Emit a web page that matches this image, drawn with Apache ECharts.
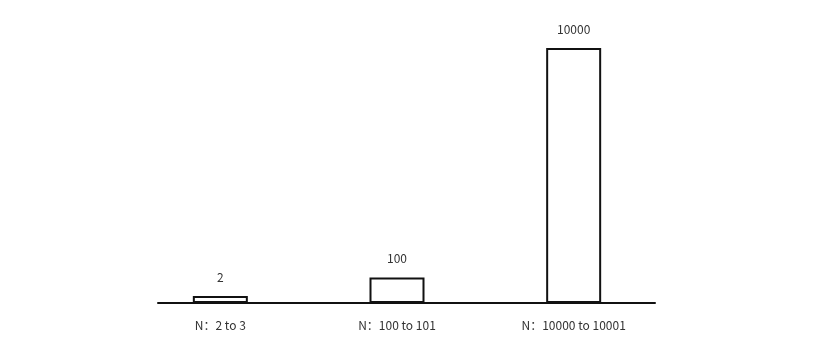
<!DOCTYPE html>
<html>
<head>
<meta charset="utf-8">
<script src="https://cdn.jsdelivr.net/npm/echarts@6/dist/echarts.min.js"></script>
<style>
  html, body { margin: 0; padding: 0; background: #fff; }
  #chart { width: 814px; height: 355px; }
</style>
</head>
<body>
<div id="chart"></div>
<script>
// categories along x
const categories = ['N：2 to 3', 'N：100 to 101', 'N：10000 to 10001']
// value shown over each bar
const values = [2, 100, 10000]

const chart = echarts.init(document.getElementById('chart'), null, { renderer: 'canvas' })

const font = '"Noto Sans CJK SC", "Noto Sans", sans-serif'

// bar heights follow a square-root scale of the values
const option = {
  animation: false,
  grid: [
    { left: 132, right: 152, top: 48, bottom: 52 },
    { left: 158, right: 159, top: 48, bottom: 52 }
  ],
  xAxis: [
    {
      type: 'category',
      gridIndex: 0,
      data: categories,
      axisLine: { show: false },
      axisTick: { show: false },
      axisLabel: { color: '#333', fontSize: 12, fontFamily: font, margin: 16 }
    },
    {
      // plain baseline
      type: 'category',
      gridIndex: 1,
      data: [''],
      axisLine: { show: true, lineStyle: { color: '#111', width: 2 } },
      axisTick: { show: false },
      axisLabel: { show: false }
    }
  ],
  yAxis: [
    { type: 'value', gridIndex: 0, min: 0, max: 100, show: false },
    { type: 'value', gridIndex: 1, min: 0, max: 1, show: false }
  ],
  series: [
    {
      type: 'bar',
      xAxisIndex: 0,
      yAxisIndex: 0,
      barWidth: 55,
      barMinHeight: 7,
      data: values.map(v => Math.sqrt(v)),
      itemStyle: { color: '#fff', borderColor: '#111', borderWidth: 2 },
      label: {
        show: true,
        position: 'top',
        distance: 13,
        color: '#333',
        fontSize: 12,
        fontFamily: font,
        formatter: function (p) {
          return values[p.dataIndex]
        }
      }
    }
  ]
}

chart.setOption(option)
</script>
</body>
</html>
